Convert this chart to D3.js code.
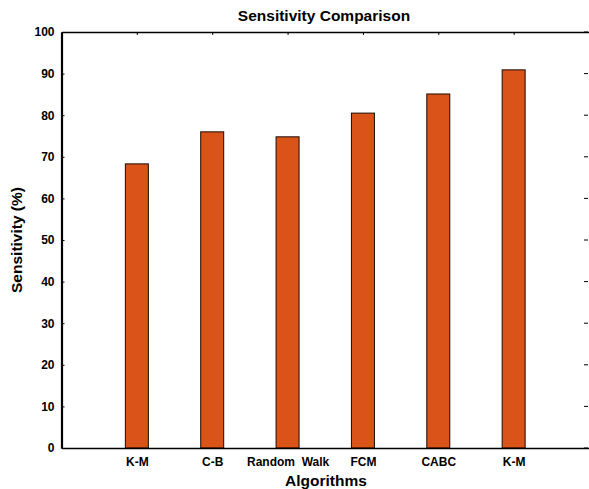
<!DOCTYPE html>
<html>
<head>
<meta charset="utf-8">
<script src="https://cdn.jsdelivr.net/npm/d3@7"></script>
<style>
  body { margin: 0; background: #fff; }
  text { font-family: "Liberation Sans", Arial, sans-serif; font-weight: bold; fill: #000; }
</style>
</head>
<body>
<div id="chart"></div>
<script>
// values
var categories = ["K-M", "C-B", "Random  Walk", "FCM", "CABC", "K-M"];
var sensitivity = [68.3, 76.0, 74.8, 80.5, 85.1, 90.9];
var y_ticks = [0, 10, 20, 30, 40, 50, 60, 70, 80, 90, 100];

var width = 589, height = 489;
// plot box (window.top is taken, hence the prefix)
var plot_left = 61.5, plot_right = 589, plot_top = 32, plot_bottom = 448;

var svg = d3.select("#chart").append("svg")
    .attr("width", width)
    .attr("height", height);

// matlab style: x runs 0..n+1, bars at 1..n
var x = d3.scaleLinear().domain([0, categories.length + 1]).range([plot_left, plot_right]);
var y = d3.scaleLinear().domain([0, 100]).range([plot_bottom, plot_top]);
var bar_w = 0.305 * (x(1) - x(0));

svg.append("g")
    .selectAll("rect")
    .data(sensitivity)
    .enter().append("rect")
        .attr("x", function(d, i) { return x(i + 1) - bar_w / 2; })
        .attr("y", d => y(d))
        .attr("width", bar_w)
        .attr("height", d => y(0) - y(d))
        .attr("fill", "#da5319")
        .attr("stroke", "#1a0a04")
        .attr("stroke-width", 1);

// left axis
var yAxis = d3.axisLeft(y).tickValues(y_ticks).tickSizeInner(-3).tickSizeOuter(0).tickPadding(7);
var gy = svg.append("g").attr("transform", "translate(" + plot_left + ",0)").call(yAxis);
gy.select(".domain").attr("stroke", "#000").attr("stroke-width", 2.2);
gy.selectAll(".tick line").attr("stroke", "#000");
gy.selectAll("text").style("font-size", "12px");

// right side ticks, no line
svg.append("g")
    .selectAll("line")
    .data(y_ticks)
    .enter().append("line")
        .attr("x1", plot_right - 5)
        .attr("x2", plot_right - 1)
        .attr("y1", d => y(d))
        .attr("y2", d => y(d))
        .attr("stroke", "#000");

// bottom axis
var xAxis = d3.axisBottom(x)
    .tickValues(d3.range(1, categories.length + 1))
    .tickFormat(d => categories[d - 1])
    .tickSize(0).tickPadding(9.5);
var gx = svg.append("g").attr("transform", "translate(0," + plot_bottom + ")").call(xAxis);
gx.select(".domain").attr("stroke", "#000").attr("stroke-width", 1.4);
gx.selectAll("text").style("font-size", "12px").style("white-space", "pre");

// top line with small ticks
var xTop = d3.axisTop(x)
    .tickValues(d3.range(1, categories.length + 1))
    .tickFormat("")
    .tickSizeInner(-3).tickSizeOuter(0);
var gt = svg.append("g").attr("transform", "translate(0," + plot_top + ")").call(xTop);
gt.select(".domain").attr("stroke", "#000").attr("stroke-width", 1.4);
gt.selectAll(".tick line").attr("stroke", "#000");

// titles
svg.append("text")
    .attr("x", 324)
    .attr("y", 21)
    .attr("text-anchor", "middle")
    .style("font-size", "15.5px")
    .text("Sensitivity Comparison");

svg.append("text")
    .attr("x", 326)
    .attr("y", 486)
    .attr("text-anchor", "middle")
    .style("font-size", "15.5px")
    .text("Algorithms");

svg.append("text")
    .attr("transform", "translate(22," + (plot_top + plot_bottom) / 2 + ") rotate(-90)")
    .attr("text-anchor", "middle")
    .style("font-size", "15.5px")
    .text("Sensitivity (%)");
</script>
</body>
</html>
